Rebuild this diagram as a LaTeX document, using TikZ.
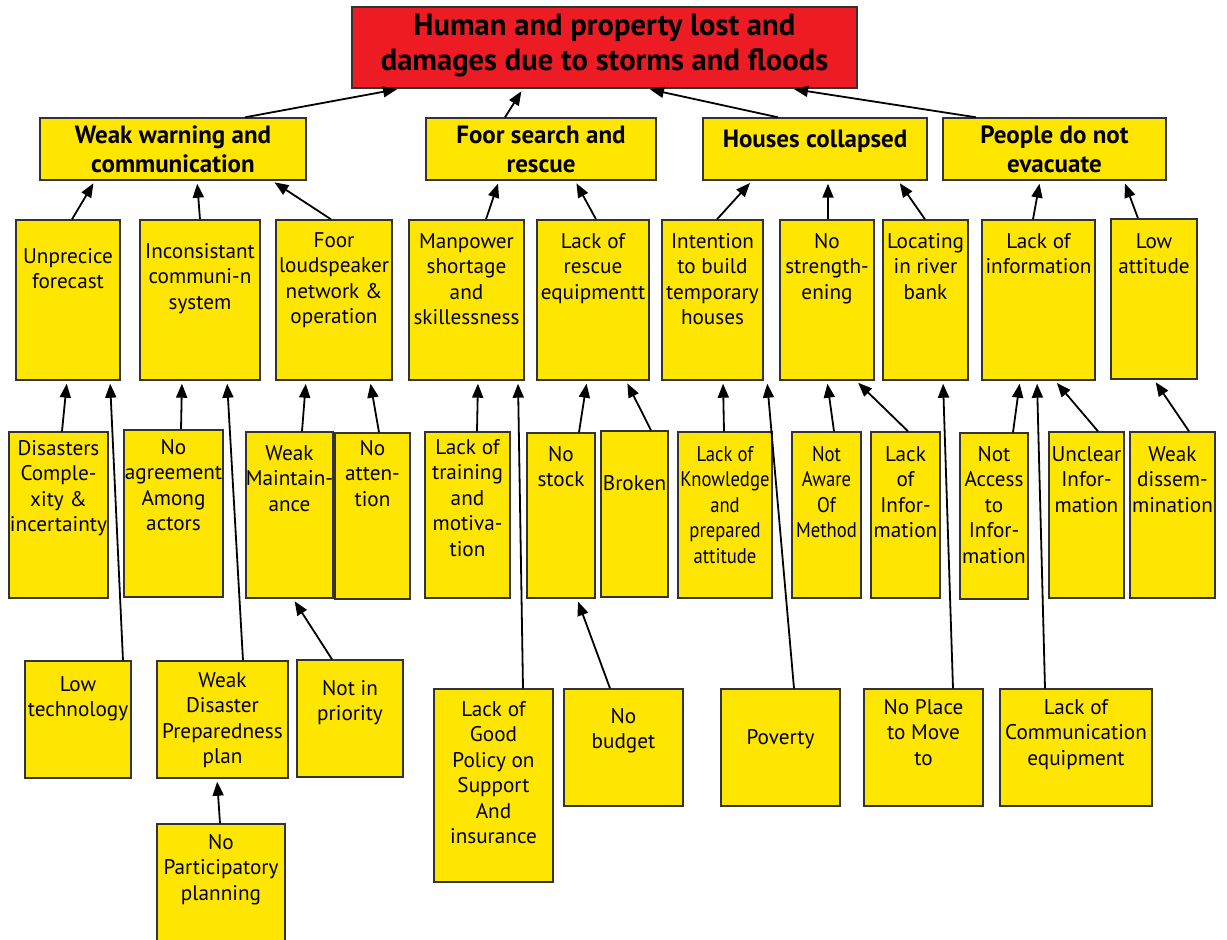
\documentclass[tikz,border=0pt]{standalone}
\usepackage{fontspec}
\setmainfont{PT Sans}
\usetikzlibrary{arrows.meta,fit}

\def\pxu{0.5pt}
\definecolor{effectred}{RGB}{237,28,36}
\definecolor{causeyellow}{RGB}{255,230,0}
\tikzset{
  causebox/.style={draw=black!80,line width=0.7pt,fill=causeyellow,inner sep=0pt},
  causetext/.style={inner sep=0pt,anchor=base,font=\fontsize{10.6}{12.75}\selectfont},
  headtext/.style={font=\bfseries\fontsize{12.5}{14.5}\selectfont},
  narrowtext/.style={font=\addfontfeature{FakeStretch=0.88}\fontsize{10.6}{12.75}\selectfont},
  causearrow/.style={line width=0.9pt,-{Triangle[length=7pt,width=5.5pt]},shorten >=1.5pt},
}
\newcommand{\stacklines}[1]{\begin{tabular}[t]{@{}c@{}}#1\end{tabular}}
% name, x1, y1, x2, y2, first baseline, text
\newcommand{\causebox}[8][]{%
  \node[causebox,fit={(#3,#4) (#5,#6)}] (#2) {};
  \node[causetext,#1] (#2-t) at ({(#3+#5)/2},#7) {\stacklines{#8}};
}

\begin{document}
\begin{tikzpicture}[x=\pxu,y=-\pxu]
  \useasboundingbox (0,0) rectangle (1227,939);
  \node[causebox,fill=effectred,fit={(352,7) (857,88)}] (top) {};
  \node[causetext,font=\bfseries\fontsize{15.3}{17.5}\selectfont] (top-t) at (604.5,35) {\stacklines{Human and property lost and\\damages due to storms and floods}};

  \causebox[headtext]{ww}{40}{118}{306}{180}{143}{Weak warning and\\communication}
  \causebox[headtext]{fs}{426}{118}{656}{180}{143}{Foor search and\\rescue}
  \causebox[headtext]{hc}{703}{118}{927}{180}{147}{Houses collapsed}
  \causebox[headtext]{pe}{943}{118}{1166}{180}{143}{People do not\\evacuate}

  \causebox{unp}{16}{220}{120}{380}{263}{Unprecice\\forecast}
  \causebox{inc}{140}{220}{260}{380}{258}{Inconsistant\\communi-n\\system}
  \causebox{lsp}{276}{220}{392}{380}{247}{Foor\\loudspeaker\\network \&\\operation}
  \causebox{man}{409}{220}{524}{380}{248}{Manpower\\shortage\\and\\skillessness}
  \causebox{lre}{537}{220}{649}{380}{248}{Lack of\\rescue\\equipmentt}
  \causebox{itb}{662}{220}{763}{380}{248}{Intention\\to build\\temporary\\houses}
  \causebox{nst}{780}{220}{874}{380}{248}{No\\strength-\\ening}
  \causebox{loc}{883}{220}{968}{380}{248}{Locating\\in river\\bank}
  \causebox{loi}{982}{220}{1095}{380}{248}{Lack of\\information}
  \causebox{lat}{1111}{219}{1197}{379}{248}{Low\\attitude}

  \causebox{dis}{9}{432}{108}{598}{455}{Disasters\\Comple-\\xity \&\\incertainty}
  \causebox{nag}{124}{430}{223}{597}{454}{No\\agreement\\Among\\actors}
  \causebox{wma}{246}{432}{333}{598}{460}{Weak\\Maintain-\\ance}
  \causebox{nat}{335}{433}{410}{599}{455}{No\\atten-\\tion}
  \causebox{ltr}{425}{432}{510}{598}{454}{Lack of\\training\\and\\motiva-\\tion}
  \causebox{nsk}{527}{433}{595}{598}{461}{No\\stock}
  \causebox{brk}{601}{431}{668}{597}{490}{Broken}
  \causebox[narrowtext]{lkn}{678}{432}{772}{598}{461}{Lack of\\Knowledge\\and\\prepared\\attitude}
  \causebox[narrowtext]{naw}{792}{432}{861}{598}{461}{Not\\Aware\\Of\\Method}
  \causebox{lin}{871}{432}{940}{598}{461}{Lack\\of\\Infor-\\mation}
  \causebox{nac}{960}{433}{1028}{599}{461}{Not\\Access\\to\\Infor-\\mation}
  \causebox{unc}{1049}{432}{1124}{598}{461}{Unclear\\Infor-\\mation}
  \causebox{wds}{1130}{432}{1215}{598}{461}{Weak\\dissem-\\mination}

  \causebox{ltc}{25}{661}{131}{778}{691}{Low\\technology}
  \causebox{wdp}{157}{661}{288}{778}{687}{Weak\\Disaster\\Preparedness\\plan}
  \causebox{nip}{297}{660}{403}{777}{695}{Not in\\priority}
  \causebox{npp}{157}{824}{285}{950}{849}{No\\Participatory\\planning}
  \causebox{lgp}{434}{689}{553}{882}{716}{Lack of\\Good\\Policy on\\Support\\And\\insurance}
  \causebox{nbd}{564}{689}{683}{806}{723}{No\\budget}
  \causebox{pov}{721}{689}{840}{806}{744}{Poverty}
  \causebox{npl}{864}{689}{983}{806}{714}{No Place\\to Move\\to}
  \causebox{lce}{1000}{689}{1152}{806}{714}{Lack of\\Communication\\equipment}

  \foreach \f/\t/\fx/\tx in {ww/top/245/400, fs/top/505/523, hc/top/778/647, pe/top/976/791,
      unp/ww/72/95, inc/ww/200/197, lsp/ww/331/272, man/fs/486/499, lre/fs/596/575,
      itb/hc/717/752, nst/hc/828/828, loc/hc/925/898, loi/pe/1033/1040, lat/pe/1138/1124,
      dis/unp/62/67, ltc/unp/123/110, nag/inc/181/182, wdp/inc/243/227, wma/lsp/302/306,
      nat/lsp/379/370, nip/wma/332/293, npp/wdp/220/217, ltr/man/477/478, lgp/man/523/518,
      nsk/lre/579/587, nbd/nsk/610/577, brk/lre/651/626, lkn/itb/724/723, pov/itb/794/767,
      naw/nst/834/827, lin/nst/908/856, npl/loc/953/943, nac/loi/1013/1020, lce/loi/1045/1037,
      unc/loi/1098/1055, wds/lat/1189/1154} {
    \draw[causearrow] (\f.north -| \fx,0) -- (\t.south -| \tx,0);
  }
\end{tikzpicture}
\end{document}
